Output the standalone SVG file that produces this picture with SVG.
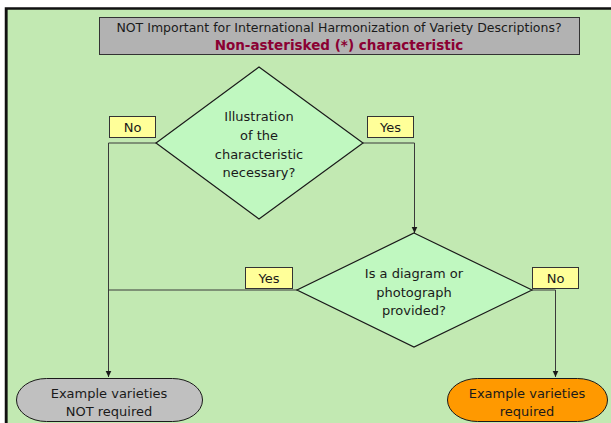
<svg xmlns="http://www.w3.org/2000/svg" width="611" height="423" viewBox="0 0 611 423">
<defs>
<marker id="arr" markerWidth="8" markerHeight="8" refX="7" refY="4" orient="auto" markerUnits="userSpaceOnUse">
<path d="M1,1.2 L7,4 L1,6.8 Z" fill="#1a1a1a"/>
</marker>
<style>
.t{font-family:"DejaVu Sans","Liberation Sans",sans-serif;font-size:13px;fill:#1a1a1a;text-anchor:middle}
.lbl{fill:#ffff99;stroke:#333;stroke-width:1}
.dia{fill:#c0f8c0;stroke:#1a1a1a;stroke-width:1.2}
.con{fill:none;stroke:#3a3a3a;stroke-width:1}
.term{stroke:#1a1a1a;stroke-width:1}
</style>
</defs>
<rect x="0" y="0" width="611" height="423" fill="#ffffff"/>
<rect x="6" y="8.5" width="640" height="440" fill="#c2e9b2" stroke="#111" stroke-width="2.5"/>
<rect x="5" y="8" width="2.5" height="420" fill="#111"/>

<g id="title">
<rect x="99.5" y="17.5" width="480" height="37" fill="#b2b2b2" stroke="#333" stroke-width="1"/>
<text x="339" y="32" class="t" style="font-size:12.5px">NOT Important for International Harmonization of Variety Descriptions?</text>
<text x="339" y="49.5" class="t" style="font-size:13.5px;font-weight:bold;fill:#8b0033">Non-asterisked (*) characteristic</text>
</g>

<g id="connectors">
<polyline class="con" points="156,143 108.5,143 108.5,377" marker-end="url(#arr)"/>
<polyline class="con" points="297,290 108.5,290"/>
<polyline class="con" points="363,143 414.5,143 414.5,233" marker-end="url(#arr)"/>
<polyline class="con" points="532,290 555.5,290 555.5,377" marker-end="url(#arr)"/>
</g>

<g id="q1">
<polygon class="dia" points="259,67 363,143 259,219 156,143"/>
<text class="t" x="259" y="121">Illustration</text>
<text class="t" x="259" y="140">of the</text>
<text class="t" x="259" y="159">characteristic</text>
<text class="t" x="259" y="177">necessary?</text>
</g>

<g id="q1-no">
<rect class="lbl" x="109.5" y="116.5" width="46" height="21"/>
<text class="t" x="132.5" y="131.5">No</text>
</g>
<g id="q1-yes">
<rect class="lbl" x="367.5" y="116.5" width="46" height="21"/>
<text class="t" x="390.5" y="131.5">Yes</text>
</g>

<g id="q2">
<polygon class="dia" points="414,233 532,290 414,347 297,290"/>
<text class="t" x="414" y="278">Is a diagram or</text>
<text class="t" x="414" y="297">photograph</text>
<text class="t" x="414" y="315">provided?</text>
</g>

<g id="q2-yes">
<rect class="lbl" x="245.5" y="267.5" width="47" height="21"/>
<text class="t" x="269" y="282.5">Yes</text>
</g>
<g id="q2-no">
<rect class="lbl" x="532.5" y="267.5" width="46" height="21"/>
<text class="t" x="555.5" y="282.5">No</text>
</g>

<g id="not-required">
<rect class="term" x="16.5" y="378.5" width="186" height="43" rx="30" ry="21.5" fill="#c0c0c0"/>
<text class="t" x="109" y="398">Example varieties</text>
<text class="t" x="109" y="416">NOT required</text>
</g>

<g id="required">
<rect class="term" x="447.5" y="378.5" width="160" height="43" rx="30" ry="21.5" fill="#ff9900"/>
<text class="t" x="527" y="398">Example varieties</text>
<text class="t" x="527" y="416">required</text>
</g>
</svg>
